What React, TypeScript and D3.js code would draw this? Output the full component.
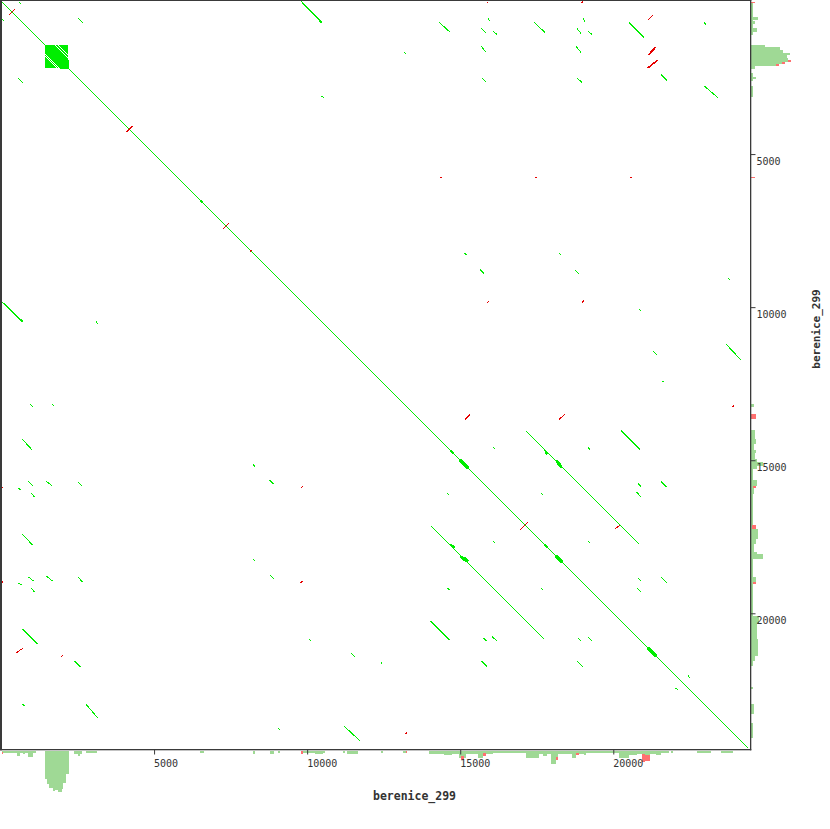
import React from "react";
import * as d3 from "d3";

const SEQ_NAME = "berenice_299";
const SEQ_LENGTH = 24400;
const TICKS = [5000, 10000, 15000, 20000];

// forward (same-strand) matches [x1, y1, x2, y2], drawn with their mirror image
const forwardMatches: number[][] = [
  [0, 0, 24400, 24400],
  [14301, 684, 14660, 1010],
  [15898, 554, 15963, 652],
  [15670, 880, 15832, 1042],
  [16061, 977, 16191, 1075],
  [13161, 1661, 13226, 1727],
  [15670, 1466, 15832, 1661],
  [15702, 2508, 15832, 2639],
  [17396, 684, 17754, 1010],
  [18992, 554, 19058, 652],
  [18797, 880, 18927, 1042],
  [19155, 977, 19286, 1075],
  [18764, 1466, 18927, 1661],
  [18797, 2508, 18960, 2639],
  [20491, 684, 20980, 1173],
  [22934, 652, 23000, 749],
  [21535, 2378, 21730, 2574],
  [22967, 2769, 23423, 3160],
  [2508, 554, 2671, 717],
  [586, 33, 652, 98],
  [15116, 8209, 15181, 8274],
  [15637, 8763, 15767, 8894],
  [18210, 8209, 18275, 8274],
  [18732, 8763, 18862, 8894],
  [23716, 9024, 23781, 9089],
  [20817, 10034, 20883, 10099],
  [21273, 11402, 21404, 11532],
  [23651, 11174, 24140, 11695],
  [21580, 12400, 21640, 12430],
  [9790, 0, 10460, 680],
  [10457, 3095, 10555, 3160],
  [17135, 14041, 20817, 17721],
  [20231, 14008, 20850, 14627],
  [16061, 14562, 16126, 14627],
  [19155, 14562, 19220, 14627],
  [17624, 16061, 17689, 16126],
  [19155, 17624, 19220, 17689],
  [20785, 15735, 20883, 15832],
  [21535, 15670, 21730, 15865],
  [20752, 16028, 20883, 16191],
  [20785, 18829, 20883, 18927],
  [21535, 18797, 21730, 18992],
  [20752, 19155, 20883, 19286],
  [22413, 21990, 22478, 22088],
];

// forward matches found on one side only
const forwardOneSided: number[][] = [[945, 13161, 1042, 13259]];

// reverse-complement matches [x1, y1, x2, y2]
const reverseMatches: number[][] = [
  [228, 456, 456, 228],
  [4072, 4268, 4268, 4072],
  [7232, 7428, 7428, 7232],
  [8112, 8176, 8176, 8112],
  [16940, 17265, 17200, 17005],
  [20035, 17234, 20198, 17104],
  [15148, 13650, 15311, 13487],
  [18210, 13650, 18406, 13487],
  [21110, 619, 21273, 456],
  [489, 21273, 717, 21110],
  [21143, 1759, 21371, 1499],
  [21110, 1759, 21339, 1499],
  [21110, 2183, 21437, 1922],
  [21078, 2183, 21404, 1922],
  [1955, 21404, 2020, 21339],
  [15850, 60, 15900, 0],
  [18940, 60, 18990, 0],
  [0, 15900, 60, 15850],
  [0, 18990, 60, 18940],
  [14334, 5766, 14399, 5734],
  [17428, 5766, 17493, 5734],
  [20524, 5766, 20589, 5734],
  [15865, 9838, 15930, 9773],
  [18960, 9838, 19025, 9773],
  [9773, 15898, 9838, 15832],
  [9773, 18992, 9838, 18927],
  [13194, 23912, 13259, 23879],
  [23879, 13259, 23912, 13194],
];

// short tandem clusters [x, y, length, spread], mirrored
const tandemClusters: number[][] = [
  [14725, 14725, 130, 33],
  [15116, 15116, 330, 66],
  [15963, 15963, 65, 33],
  [17786, 17786, 130, 33],
  [18210, 18210, 260, 66],
  [19058, 19058, 65, 33],
  [21241, 21241, 330, 66],
  [6548, 6548, 100, 33],
  [17786, 14725, 130, 33],
  [18210, 15116, 260, 66],
  [19058, 15963, 65, 33],
  [10392, 619, 130, 33],
];

// large tandem repeat block
const tandemBlock = [1433, 2190];
const tandemPeriod = 33;
const tandemMissing = [-13, -10, 9, 11];

// coverage along the x axis [start, end, forward, reverse]
const bottomCoverage: number[][] = [
  [0, 40, 1, 2], [40, 520, 2, 0], [520, 620, 5, 0], [620, 690, 2, 0], [690, 780, 3, 0], [780, 880, 2, 0],
  [880, 1040, 6, 0], [1040, 1140, 2, 0],
  [1430, 1500, 28, 0], [1500, 1560, 33, 0], [1560, 1690, 37, 0], [1690, 1760, 40, 0], [1760, 1860, 39, 0],
  [1860, 1990, 41, 0], [1990, 2020, 38, 0], [2020, 2120, 32, 0], [2120, 2190, 23, 0],
  [2380, 2510, 3, 0], [2510, 2580, 5, 0], [2580, 2640, 3, 0], [2770, 3130, 2, 0],
  [6480, 6610, 2, 0], [8210, 8280, 3, 0], [8760, 8900, 3, 0], [9020, 9090, 2, 0],
  [9770, 9840, 0, 3], [9840, 10230, 2, 0], [10230, 10490, 3, 0], [10490, 10560, 2, 0],
  [11140, 11210, 2, 0], [11300, 11630, 3, 0], [12410, 12450, 2, 0], [13130, 13200, 2, 0], [13200, 13260, 0, 2],
  [13950, 14460, 3, 0], [14460, 14700, 4, 0], [14700, 14950, 3, 0], [14950, 15020, 7, 0], [15020, 15100, 5, 4],
  [15100, 15180, 7, 0], [15180, 15570, 3, 0], [15570, 15740, 7, 0], [15740, 15830, 2, 3], [15830, 16060, 3, 0],
  [16060, 17140, 2, 0], [17140, 17560, 7, 0], [17560, 17690, 3, 0], [17690, 17820, 5, 0], [17820, 17950, 3, 0],
  [17950, 18120, 13, 0], [18120, 18180, 6, 3], [18180, 18640, 3, 0], [18640, 18770, 7, 0], [18770, 18870, 2, 2],
  [18870, 19030, 3, 0], [19030, 19100, 4, 0], [19100, 20170, 2, 0], [20170, 20500, 7, 0], [20500, 20760, 4, 0],
  [20760, 20920, 3, 0], [20920, 21020, 3, 8], [21020, 21180, 4, 6], [21180, 21370, 3, 0], [21370, 21540, 4, 0],
  [21540, 21800, 2, 0], [21860, 21930, 2, 0], [22710, 23170, 2, 0], [23490, 23910, 2, 0],
];

// coverage along the y axis [start, end, forward, reverse]
const rightCoverage: number[][] = [
  [0, 40, 0, 4], [40, 520, 2, 0], [520, 620, 7, 0], [620, 650, 2, 0], [650, 750, 4, 0], [750, 880, 2, 0],
  [880, 1010, 6, 0], [1010, 1110, 2, 0],
  [1430, 1500, 14, 0], [1500, 1600, 29, 0], [1600, 1690, 32, 0], [1690, 1760, 39, 0], [1760, 1860, 36, 0],
  [1860, 1920, 37, 0], [1920, 1990, 37, 3], [1990, 2050, 31, 3], [2050, 2120, 25, 3], [2120, 2190, 4, 0],
  [2350, 2450, 2, 0], [2450, 2540, 5, 0], [2540, 2610, 2, 0], [2770, 3130, 2, 0],
  [5730, 5780, 0, 4], [13160, 13230, 3, 0], [13490, 13650, 0, 5],
  [14010, 14300, 4, 0], [14300, 14460, 5, 0], [14460, 14660, 3, 0], [14660, 14760, 5, 0], [14760, 14960, 4, 0],
  [14960, 15050, 6, 0], [15050, 15180, 12, 0], [15180, 15280, 6, 0], [15280, 15640, 2, 0], [15640, 15830, 6, 0],
  [15830, 15900, 2, 3], [15900, 16100, 3, 0], [16100, 17100, 2, 0], [17100, 17230, 1, 4], [17230, 17560, 7, 0],
  [17560, 17720, 5, 0], [17720, 17980, 3, 0], [17980, 18050, 6, 0], [18050, 18210, 12, 0], [18210, 18800, 2, 0],
  [18800, 18960, 5, 0], [18960, 19030, 2, 3], [19030, 20070, 2, 0], [20070, 20330, 8, 0], [20330, 20820, 6, 0],
  [20820, 21150, 7, 0], [21150, 21380, 7, 0], [21380, 21540, 4, 0], [21540, 21700, 2, 0],
  [22380, 22450, 2, 0], [22940, 23260, 3, 0], [23580, 24050, 2, 0],
];

const FWD = "#00ee00";
const REV = "#e60000";
const COV_FWD = "#9fd995";
const COV_REV = "#ff7070";
const AXIS = "#3a3a3a";
const FONT = "'DejaVu Sans Mono', 'Liberation Mono', monospace";

export default function App() {
  const W = 830;
  const H = 829;
  const x = d3.scaleLinear().domain([0, SEQ_LENGTH]).range([1.5, 748.5]);
  const y = d3.scaleLinear().domain([0, SEQ_LENGTH]).range([1.5, 748.5]);
  const cov = d3.scaleLinear().domain([0, 41]).range([0, 41]);

  type Seg = { x1: number; y1: number; x2: number; y2: number; c: string };
  const segs: Seg[] = [];
  const add = (a: number[], c: string, mirror: boolean) => {
    segs.push({ x1: a[0], y1: a[1], x2: a[2], y2: a[3], c });
    if (mirror) segs.push({ x1: a[1], y1: a[0], x2: a[3], y2: a[2], c });
  };
  forwardMatches.forEach((m) => add(m, FWD, true));
  forwardOneSided.forEach((m) => add(m, FWD, false));

  // tandem block
  const [bs, be] = tandemBlock;
  const K = Math.floor((be - bs) / tandemPeriod);
  for (let k = -K; k <= K; k++) {
    if (tandemMissing.includes(k)) continue;
    const d = k * tandemPeriod;
    const x0 = d >= 0 ? bs : bs - d;
    const x1 = d >= 0 ? be - d : be;
    if (x1 <= x0) continue;
    segs.push({ x1: x0, y1: x0 + d, x2: x1, y2: x1 + d, c: FWD });
  }

  // tandem clusters
  tandemClusters.forEach(([cx, cy, len, spread]) => {
    for (let d = -spread; d <= spread; d += 33) {
      const h = len / 2 - Math.abs(d);
      if (h <= 0) continue;
      add([cx - h, cy - h + d, cx + h, cy + h + d], FWD, true);
    }
  });

  reverseMatches.forEach((m) => add(m, REV, false));

  const plotRight = 750;
  const plotBottom = 749;

  return (
    <svg
      width={W}
      height={H}
      style={{ position: "absolute", left: 0, top: 0, background: "#fff" }}
      fontFamily={FONT}
    >
      <rect x={0} y={0} width={W} height={H} fill="#fff" />
      {/* coverage bottom */}
      <g shapeRendering="crispEdges">
        {bottomCoverage.map((b, i) => (
          <g key={"bc" + i}>
            {b[2] > 0 && (
              <rect x={x(b[0])} y={plotBottom + 1.5} width={x(b[1]) - x(b[0])} height={cov(b[2])} fill={COV_FWD} />
            )}
            {b[3] > 0 && (
              <rect x={x(b[0])} y={plotBottom + 1.5 + cov(b[2])} width={x(b[1]) - x(b[0])} height={cov(b[3])} fill={COV_REV} />
            )}
          </g>
        ))}
      </g>
      {/* coverage right */}
      <g shapeRendering="crispEdges">
        {rightCoverage.map((b, i) => (
          <g key={"rc" + i}>
            {b[2] > 0 && (
              <rect x={plotRight + 1.3} y={y(b[0])} width={cov(b[2])} height={y(b[1]) - y(b[0])} fill={COV_FWD} />
            )}
            {b[3] > 0 && (
              <rect x={plotRight + 1.3 + cov(b[2])} y={y(b[0])} width={cov(b[3])} height={y(b[1]) - y(b[0])} fill={COV_REV} />
            )}
          </g>
        ))}
      </g>
      {/* matches */}
      <g shapeRendering="crispEdges" strokeWidth={1}>
        {segs.map((s, i) => (
          <line key={i} x1={x(s.x1)} y1={y(s.y1)} x2={x(s.x2)} y2={y(s.y2)} stroke={s.c} />
        ))}
      </g>
      {/* frame */}
      <rect x={0} y={0} width={2} height={plotBottom + 1.3} fill={AXIS} />
      <rect x={0} y={0} width={plotRight + 1.3} height={1} fill={AXIS} />
      <rect x={plotRight} y={0} width={1.3} height={plotBottom + 1.3} fill={AXIS} />
      <rect x={0} y={plotBottom} width={plotRight + 1.3} height={1.3} fill={AXIS} />
      {/* bottom ticks */}
      {TICKS.map((t) => (
        <g key={"bt" + t}>
          <line x1={x(t)} x2={x(t)} y1={plotBottom} y2={plotBottom + 5.5} stroke={AXIS} strokeWidth={1} />
          <text x={x(t) - 0.5} y={767} fontSize={10} fill="#333">
            {t}
          </text>
        </g>
      ))}
      {/* right ticks */}
      {TICKS.map((t) => (
        <g key={"rt" + t}>
          <line x1={plotRight} x2={plotRight + 5.5} y1={y(t)} y2={y(t)} stroke={AXIS} strokeWidth={1} />
          <text x={756.5} y={y(t) + 10.3} fontSize={10} fill="#333">
            {t}
          </text>
        </g>
      ))}
      <text x={414.5} y={799.5} textAnchor="middle" fontSize={11.5} fontWeight="bold" fill="#333">
        {SEQ_NAME}
      </text>
      <text
        transform="translate(819.5,329) rotate(-90)"
        textAnchor="middle"
        fontSize={11}
        fontWeight="bold"
        fill="#333"
      >
        {SEQ_NAME}
      </text>
    </svg>
  );
}
